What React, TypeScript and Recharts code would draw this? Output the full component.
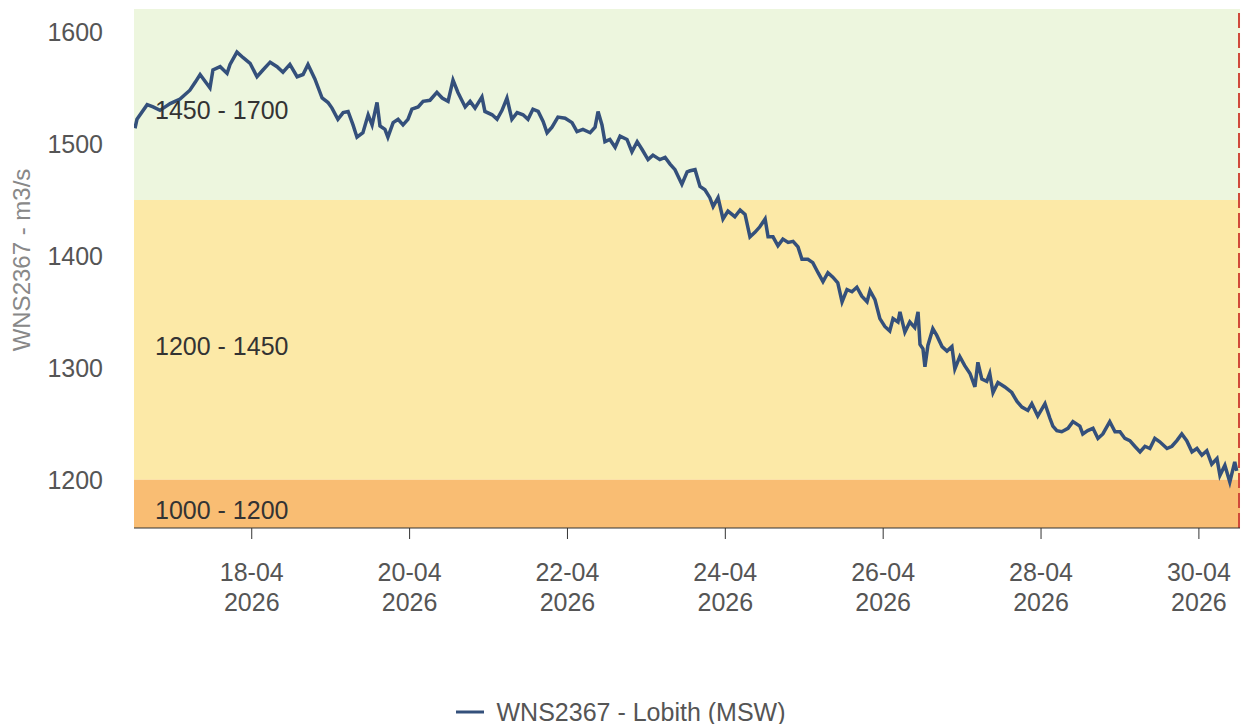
import React from 'react';
import { LineChart, Line, XAxis, YAxis, ReferenceArea, ReferenceLine, Legend } from 'recharts';

// hours since 16-04-2026 00:00
const hours = [
  12.5, 13.1, 16.2, 18.0, 20.1, 23.2, 26.2, 29.2, 30.8, 32.3, 33.8, 35.3, 36.2, 38.4, 40.5, 41.4, 43.5, 45.4, 47.5,
  49.6, 51.4, 53.6, 55.7, 57.5, 59.6, 61.8, 63.6, 65.1, 67.2, 69.4, 71.2, 72.4, 74.2, 75.8, 77.3, 78.8, 80.0, 81.8,
  83.4, 84.6, 86.1, 87.0, 88.5, 89.4, 91.0, 92.5, 94.0, 95.5, 96.7, 98.6, 100.1, 102.2, 104.3, 105.9, 107.7, 109.2,
  110.7, 112.9, 114.4, 115.9, 118.0, 118.9, 121.1, 122.6, 124.1, 125.6, 127.1, 128.7, 130.5, 132.0, 133.5, 135.1,
  136.6, 137.8, 139.3, 141.1, 143.3, 145.4, 146.9, 148.7, 150.9, 152.4, 153.3, 154.5, 155.4, 156.9, 158.5, 160.0,
  162.1, 163.6, 165.2, 166.7, 168.5, 170.0, 172.1, 173.7, 175.2, 176.7, 178.8, 180.4, 181.3, 182.8, 184.3, 185.8,
  187.3, 188.3, 189.8, 191.3, 192.8, 194.9, 196.5, 198.0, 199.5, 201.0, 202.5, 204.1, 205.0, 206.5, 208.0, 209.5,
  211.1, 212.6, 214.1, 215.3, 217.1, 218.6, 220.2, 221.7, 223.2, 224.7, 226.2, 227.5, 229.0, 230.5, 232.0, 233.5,
  235.1, 236.0, 237.5, 239.0, 240.5, 242.0, 243.0, 244.5, 245.1, 246.6, 248.1, 249.6, 250.6, 251.2, 252.1, 252.7,
  253.6, 255.1, 256.3, 257.9, 259.4, 260.9, 261.8, 263.3, 264.8, 266.4, 267.9, 268.8, 270.0, 271.5, 272.4, 273.4,
  274.9, 277.0, 279.1, 280.7, 282.2, 284.0, 285.2, 287.0, 289.2, 290.7, 291.6, 292.8, 294.3, 296.2, 297.7, 299.8,
  300.7, 302.2, 303.8, 305.3, 306.8, 308.9, 310.5, 312.0, 313.5, 315.0, 316.5, 318.1, 319.6, 321.1, 322.6, 324.1,
  326.3, 327.8, 329.3, 330.8, 332.3, 333.9, 335.4, 336.9, 338.4, 339.9, 341.5, 342.4, 343.9, 345.4, 346.9, 347.5,
];

const flow = [
  1514, 1522, 1535, 1533, 1530, 1536, 1540, 1548, 1555, 1562, 1556, 1550, 1566, 1569, 1563, 1571, 1582, 1577, 1572,
  1560, 1566, 1573, 1569, 1564, 1571, 1560, 1562, 1571, 1558, 1541, 1537, 1532, 1522, 1528, 1529, 1517, 1506, 1510,
  1526, 1517, 1537, 1516, 1513, 1506, 1519, 1522, 1517, 1522, 1531, 1533, 1538, 1539, 1546, 1541, 1538, 1557,
  1546, 1533, 1538, 1532, 1542, 1529, 1526, 1522, 1530, 1541, 1522, 1528, 1526, 1522, 1531, 1529,
  1520, 1510, 1515, 1524, 1523, 1519, 1511, 1513, 1510, 1515, 1529, 1517, 1502, 1504, 1497, 1507,
  1504, 1493, 1502, 1495, 1486, 1490, 1486, 1488, 1482, 1477, 1464, 1475, 1476, 1477, 1462, 1459,
  1452, 1444, 1452, 1433, 1440, 1435, 1441, 1437, 1417, 1421, 1426, 1433, 1417, 1417, 1409, 1415,
  1412, 1413, 1408, 1397, 1397, 1394, 1385, 1377, 1385, 1381, 1376, 1359, 1370, 1368, 1372, 1364,
  1359, 1369, 1361, 1344, 1337, 1333, 1344, 1341, 1350, 1332, 1341, 1336, 1350, 1321, 1317, 1301,
  1320, 1335, 1329, 1319, 1315, 1319, 1299, 1310, 1302, 1295, 1283, 1305, 1290, 1288, 1295, 1278,
  1287, 1283, 1278, 1270, 1265, 1262, 1268, 1257, 1268, 1255, 1248, 1244, 1243, 1246, 1252, 1248,
  1241, 1244, 1246, 1237, 1241, 1252, 1243, 1243, 1237, 1235, 1230, 1225, 1230, 1228, 1237, 1234,
  1228, 1230, 1235, 1241, 1235, 1225, 1228, 1222, 1226, 1214, 1219, 1204, 1213, 1198, 1216, 1208,
];

const bandFrom = [1450, 1200, 1000];
const bandTo = [1700, 1450, 1200];
const bandLabels = ['1450 - 1700', '1200 - 1450', '1000 - 1200'];
const bandColors = ['#edf6de', '#fce9a7', '#f9bd73'];

const dayTicks = [48, 96, 144, 192, 240, 288, 336];
const dayLabels = ['18-04', '20-04', '22-04', '24-04', '26-04', '28-04', '30-04'];
const yearLabel = '2026';
const yTicks = [1200, 1300, 1400, 1500, 1600];
const nowHour = 348.2;

const seriesName = 'WNS2367 - Lobith (MSW)';
const yTitle = 'WNS2367 - m3/s';

const X_MIN = 12.2;
const X_MAX = 348.5;
const Y_MIN = 1157;
const Y_MAX = 1620.5;

const font = '"Liberation Sans", Arial, sans-serif';
const lineColor = '#34507b';

const data = hours.map((h, i) => ({ h, flow: flow[i] }));

const DateTick = (props: any) => {
  const { x, y, payload } = props;
  const i = dayTicks.indexOf(payload.value);
  return (
    <text x={x} y={y} textAnchor="middle" fill="#555" fontSize={25} fontFamily={font}>
      <tspan x={x} dy={40}>{dayLabels[i]}</tspan>
      <tspan x={x} dy={30}>{yearLabel}</tspan>
    </text>
  );
};

const LegendContent = () => (
  <div
    style={{
      display: 'flex',
      justifyContent: 'center',
      alignItems: 'center',
      fontFamily: font,
      fontSize: 25,
      color: '#555',
      height: 30,
    }}
  >
    <svg width={28} height={6} style={{ marginRight: 13 }}>
      <line x1={0} y1={3} x2={28} y2={3} stroke={lineColor} strokeWidth={3} />
    </svg>
    <span>{seriesName}</span>
  </div>
);

export default function App() {
  return (
    <div style={{ position: 'absolute', left: 0, top: 0 }}>
      <LineChart width={1241} height={724} data={data} margin={{ top: 9, right: 1, bottom: 1, left: 0 }}>
        <XAxis
          dataKey="h"
          type="number"
          domain={[X_MIN, X_MAX]}
          ticks={dayTicks}
          interval={0}
          allowDataOverflow
          height={195}
          tickSize={11}
          stroke="#333"
          tick={<DateTick />}
        />
        <YAxis
          type="number"
          domain={[Y_MIN, Y_MAX]}
          ticks={yTicks}
          allowDataOverflow
          width={134}
          axisLine={false}
          tickLine={false}
          tickSize={0}
          tickMargin={31}
          tick={{ fill: '#555', fontSize: 25, fontFamily: font }}
          label={() => (
            <text
              x={21}
              y={260}
              transform="rotate(-90 21 260)"
              textAnchor="middle"
              dominantBaseline="central"
              fill="#888"
              fontSize={24}
              fontFamily={font}
            >
              {yTitle}
            </text>
          )}
        />
        {bandLabels.map((lbl, i) => (
          <ReferenceArea
            key={lbl}
            y1={Math.max(bandFrom[i], Y_MIN)}
            y2={Math.min(bandTo[i], Y_MAX)}
            x1={X_MIN}
            x2={X_MAX}
            fill={bandColors[i]}
            fillOpacity={1}
            stroke="none"
            ifOverflow="hidden"
            label={{ value: lbl, position: 'insideLeft', offset: 21, dy: 6, fill: '#333', fontSize: 25, fontFamily: font }}
          />
        ))}
        <Line
          type="linear"
          dataKey="flow"
          name={seriesName}
          stroke={lineColor}
          strokeWidth={3.5}
          dot={false}
          isAnimationActive={false}
        />
        <ReferenceLine x={nowHour} stroke="#d0493a" strokeWidth={2} strokeDasharray="15 5" />
        <Legend
          verticalAlign="middle"
          align="center"
          layout="horizontal"
          content={<LegendContent />}
          wrapperStyle={{ top: 697, left: 0, width: 1241, height: 30 }}
        />
      </LineChart>
    </div>
  );
}
